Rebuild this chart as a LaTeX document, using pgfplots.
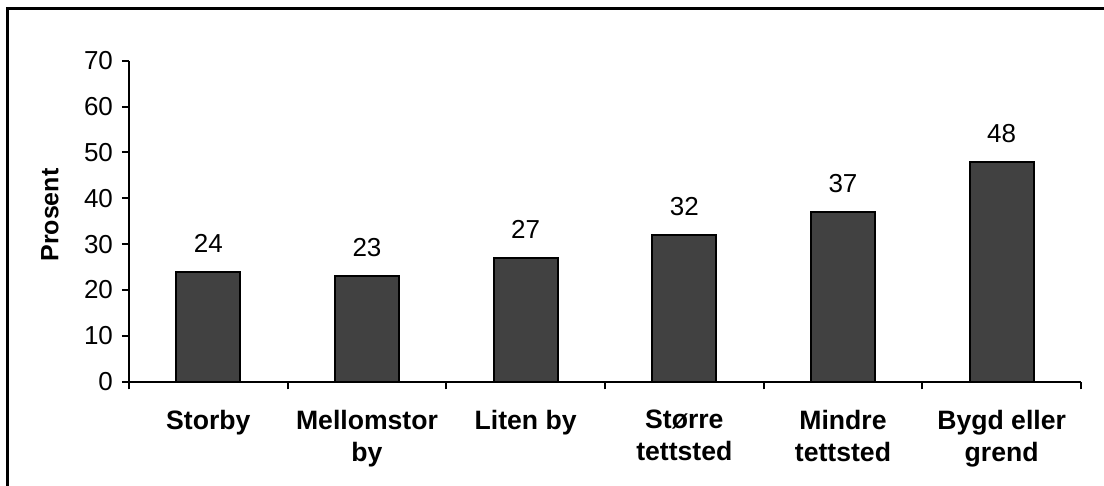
\documentclass[border=0pt]{standalone}
\usepackage{pgfplots}
\pgfplotsset{compat=1.18}
\usepackage{fontspec}
\setmainfont{Liberation Sans}

\definecolor{bargray}{HTML}{414141}

\begin{document}
\begin{tikzpicture}
    % fixed page size: 1104x486 px at 0.5pt per px, axis box at the origin
    \path[use as bounding box] (-64.5pt,-52.15pt) rectangle (487.5pt,190.85pt);
    % the surrounding frame, cut off at right and bottom
    \draw[line width=1.5pt, line join=miter]
        (-60.5pt,-52.15pt) -- (-60.5pt,186.35pt) -- (487.5pt,186.35pt);

    \begin{axis}[
        scale only axis,
        width  = 476pt,
        height = 160.5pt,
        axis x line = bottom,
        axis y line = left,
        axis line style = {-, line width=1pt},
        tick align = outside,
        tick style = {black, line width=1pt},
        major tick length = 3.5pt,
        minor tick length = 3.8pt,
        major x tick style = {draw=none},
        xmin = -0.5, xmax = 5.5,
        ymin = 0, ymax = 70,
        xtick = {0,...,5},
        minor xtick = {-0.5,0.5,...,5.5},
        xticklabels = {Storby, Mellomstor\\by, Liten by, Større\\tettsted, Mindre\\tettsted, Bygd eller\\grend},
        ytick = {0,10,...,70},
        /pgf/number format/assume math mode=true,
        x tick label style = {font=\fontsize{13.3}{16}\selectfont\bfseries, align=center, yshift=-7pt},
        y tick label style = {font=\fontsize{13}{14}\selectfont, xshift=-1pt},
        ylabel = {Prosent},
        ylabel style = {font=\fontsize{12.5}{14}\selectfont\bfseries,
                        at={(axis description cs:-0.0735,0.519)}, anchor=south,
                        inner sep=0pt},
        ybar,
        bar width = 32pt,
        nodes near coords,
        every node near coord/.append style = {font=\fontsize{13}{14}\selectfont,
                        anchor=south, inner sep=0pt, yshift=9pt},
        clip = false,
    ]
        \addplot[fill=bargray, draw=black, line width=1pt]
            coordinates {
                (0, 24)
                (1, 23)
                (2, 27)
                (3, 32)
                (4, 37)
                (5, 48)
            };
    \end{axis}
\end{tikzpicture}
\end{document}
